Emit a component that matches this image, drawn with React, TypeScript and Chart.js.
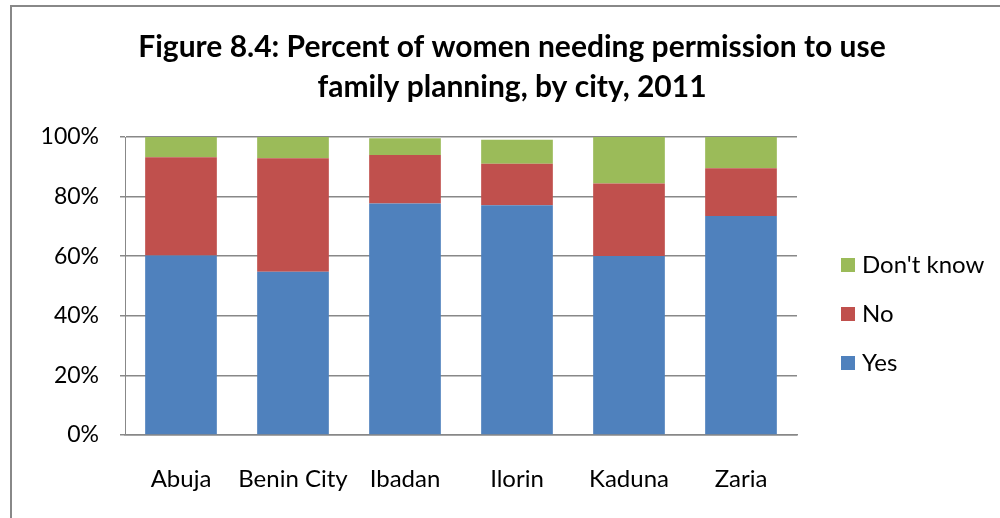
import React, { useEffect, useRef } from "react";
import { Chart, registerables } from "chart.js";

Chart.register(...registerables);

const cities = ["Abuja", "Benin City", "Ibadan", "Ilorin", "Kaduna", "Zaria"];
const yesValues = [60.2, 54.8, 77.7, 77.1, 60.1, 73.5];
const noValues = [33.0, 38.1, 16.3, 13.9, 24.3, 16.0];
const dontKnowValues = [6.8, 7.1, 5.6, 8.1, 15.6, 10.5];
const yTicks = [0, 20, 40, 60, 80, 100];
const titleLines = [
  "Figure 8.4: Percent of women needing permission to use",
  "family planning, by city, 2011",
];

const FONT = "Lato, 'Open Sans', sans-serif";

const customPlugin = {
  id: "customTitleLegend",
  afterDraw(chart: any) {
    const ctx = chart.ctx;
    ctx.save();
    // Title
    ctx.fillStyle = "#000";
    ctx.font = `bold 30px ${FONT}`;
    ctx.textAlign = "center";
    ctx.textBaseline = "middle";
    titleLines.forEach((line, i) => {
      ctx.fillText(line, 512, 47 + i * 40);
    });
    // Legend (reversed order)
    const items = chart.data.datasets
      .map((d: any) => ({ label: d.label, color: d.backgroundColor }))
      .reverse();
    ctx.font = `24px ${FONT}`;
    ctx.textAlign = "left";
    items.forEach((it: any, i: number) => {
      const cy = 265 + i * 49;
      ctx.fillStyle = it.color;
      ctx.fillRect(841, cy - 7, 14, 14);
      ctx.fillStyle = "#000";
      ctx.fillText(it.label, 862, cy);
    });
    ctx.restore();
  },
};

export default function App() {
  const canvasRef = useRef<HTMLCanvasElement>(null);

  useEffect(() => {
    document.body.style.margin = "0";
    const canvas = canvasRef.current;
    if (!canvas) return;
    const chart = new Chart(canvas, {
      type: "bar",
      data: {
        labels: cities,
        datasets: [
          { label: "Yes", data: yesValues, backgroundColor: "#4F81BD" },
          { label: "No", data: noValues, backgroundColor: "#C0504D" },
          { label: "Don't know", data: dontKnowValues, backgroundColor: "#9BBB59" },
        ],
      },
      options: {
        responsive: false,
        animation: false,
        layout: { padding: { top: 137, right: 203, left: 0, bottom: 0 } },
        plugins: {
          legend: { display: false },
          title: { display: false },
          tooltip: { enabled: false },
        },
        datasets: {
          bar: { categoryPercentage: 1, barPercentage: 0.64, borderWidth: 0 },
        },
        scales: {
          x: {
            stacked: true,
            grid: { display: false, drawTicks: false },
            border: { display: true, color: "#888", width: 1.5 },
            ticks: {
              color: "#000",
              font: { family: FONT, size: 24 },
              padding: 30,
              maxRotation: 0,
              minRotation: 0,
              autoSkip: false,
            },
            afterFit(scale: any) {
              scale.height = 83;
            },
          },
          y: {
            stacked: true,
            min: 0,
            max: 100,
            afterBuildTicks(scale: any) {
              scale.ticks = yTicks.map((v) => ({ value: v }));
            },
            grid: {
              color: "#888",
              lineWidth: 1.5,
              tickLength: 5,
              drawTicks: true,
            },
            border: { display: true, color: "#888", width: 1 },
            ticks: {
              color: "#000",
              font: { family: FONT, size: 23 },
              padding: 21,
              autoSkip: false,
              callback: (v: any) => `${v}%`,
            },
            afterFit(scale: any) {
              scale.width = 125;
            },
          },
        },
      },
      plugins: [customPlugin],
    });
    return () => chart.destroy();
  }, []);

  return (
    <div style={{ position: "relative", width: 1000, height: 518, overflow: "hidden", background: "#fff" }}>
      <div
        style={{
          position: "absolute",
          left: 10,
          top: 5,
          width: 1000,
          height: 600,
          borderLeft: "2px solid #888",
          borderTop: "2px solid #888",
        }}
      />
      <canvas
        ref={canvasRef}
        width={1000}
        height={518}
        style={{ position: "absolute", left: 0, top: 0, width: 1000, height: 518 }}
      />
    </div>
  );
}
